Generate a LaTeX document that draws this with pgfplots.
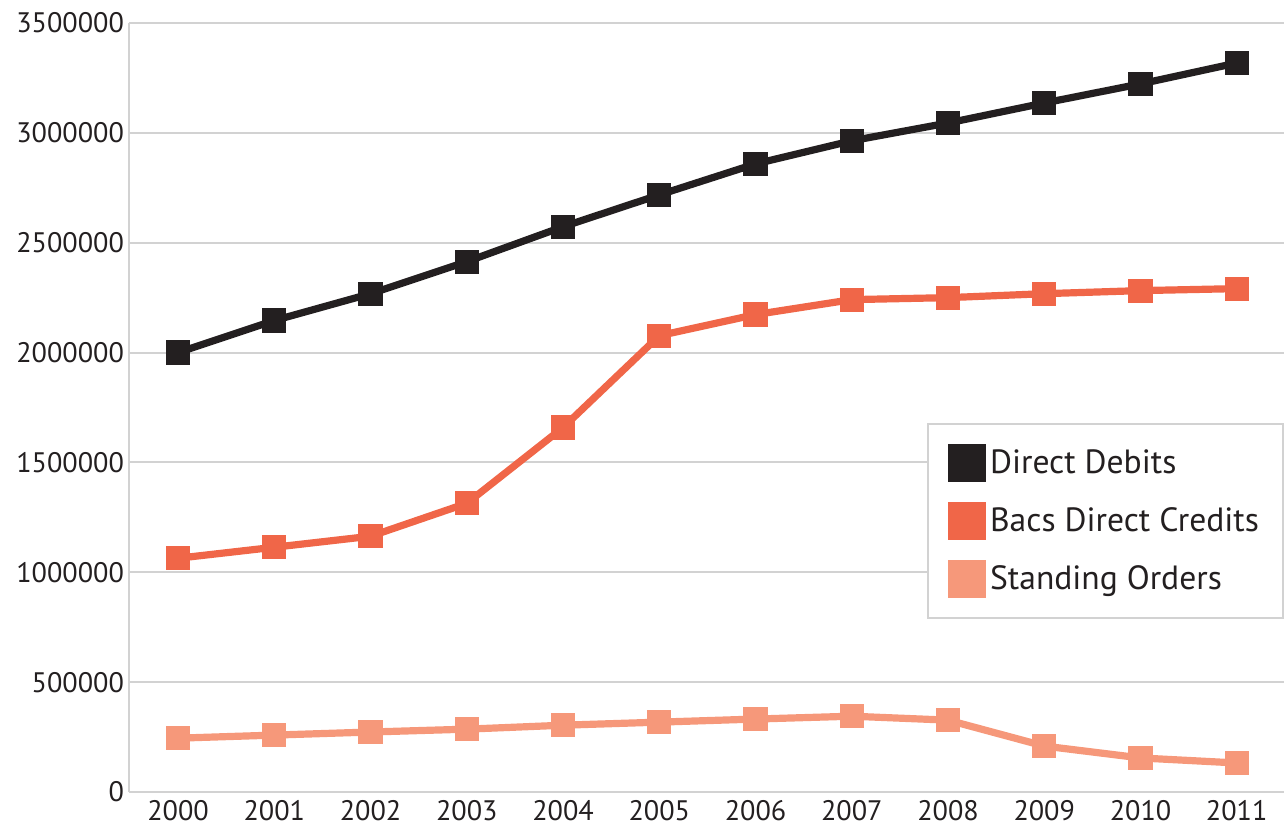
\documentclass[border=0pt]{standalone}
\usepackage{pgfplots}
\pgfplotsset{compat=1.18}
\usepackage{fontspec}
\setmainfont{PT Sans}
\definecolor{ddcol}{RGB}{35,31,32}
\definecolor{bacscol}{RGB}{240,102,72}
\definecolor{socol}{RGB}{246,152,122}
\definecolor{gridcol}{RGB}{210,210,210}
\begin{document}
\begin{tikzpicture}
\useasboundingbox (-64.5bp,-18.5bp) rectangle (577.5bp,396bp);
\begin{axis}[
  at={(0,0)}, anchor=south west,
  scale only axis,
  width=577.5bp, height=384.5bp,
  xmin=1999.49, xmax=2011.49,
  ymin=0, ymax=3500000,
  xtick={2000,...,2011},
  ytick={0,500000,...,3500000},
  scaled y ticks=false,
  x tick label style={/pgf/number format/1000 sep=},
  y tick label style={/pgf/number format/fixed,/pgf/number format/1000 sep=},
  /pgf/number format/assume math mode=true,
  tick label style={font=\fontsize{14.1bp}{16bp}\selectfont, text=ddcol},
  major tick length=0pt,
  ymajorgrids,
  grid style={gridcol, line width=1bp},
  axis x line*=bottom, axis y line*=left,
  axis line style={gridcol, line width=1.2bp, -},
  yticklabel style={xshift=1bp},
  xticklabel style={yshift=-2bp, inner ysep=2bp},
  legend style={at={(1,0.48)}, anchor=north east, draw=gridcol, line width=1bp,
    font=\fontsize{16.8bp}{19bp}\selectfont, text=ddcol,
    inner xsep=10bp, inner ysep=10bp, row sep=10bp, cells={anchor=west}},
  legend cell align=left,
  legend image code/.code={\fill[#1] (0bp,-7.75bp) rectangle (15.5bp,7.75bp);},
  every axis plot/.append style={line width=3.6bp, mark=square*, mark size=4.25bp},
]
\addplot[color=ddcol, mark options={solid, fill=ddcol}] coordinates {
 (2000,2000000) (2001,2146000) (2002,2268000) (2003,2414000) (2004,2573000) (2005,2718000)
 (2006,2859000) (2007,2964000) (2008,3045000) (2009,3136000) (2010,3223000) (2011,3318000)};
\addlegendentry{Direct Debits}
\addplot[color=bacscol, mark options={solid, fill=bacscol}] coordinates {
 (2000,1064000) (2001,1114000) (2002,1164000) (2003,1314000) (2004,1659000) (2005,2077000)
 (2006,2173000) (2007,2241000) (2008,2250000) (2009,2268000) (2010,2282000) (2011,2291000)};
\addlegendentry{Bacs Direct Credits}
\addplot[color=socol, mark options={solid, fill=socol}] coordinates {
 (2000,245000) (2001,259000) (2002,273000) (2003,286000) (2004,304000) (2005,318000)
 (2006,332000) (2007,345000) (2008,327000) (2009,209000) (2010,155000) (2011,132000)};
\addlegendentry{Standing Orders}
\end{axis}
\end{tikzpicture}
\end{document}
